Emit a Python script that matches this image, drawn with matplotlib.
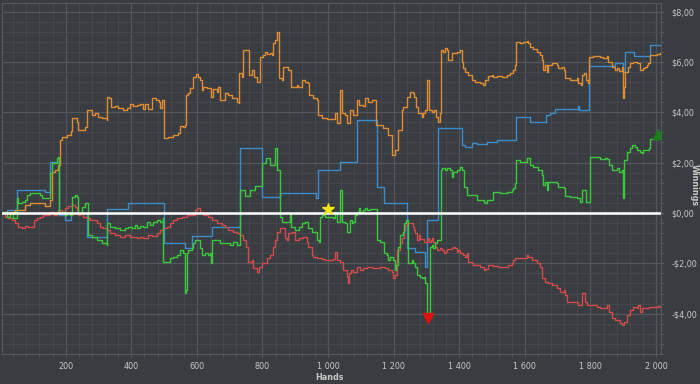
import matplotlib.pyplot as plt
from matplotlib.ticker import FuncFormatter, MultipleLocator

plt.rcParams["font.family"] = ["DejaVu Sans"]

# winnings per series (hands, $)
orange_hands = [9, 30, 46, 61, 76, 91, 122, 137, 152, 159, 168, 177, 183, 189, 204, 216, 220, 232, 235, 238,
                259, 265, 277, 280, 290, 299, 311, 326, 327, 332, 338, 351, 360, 375, 387, 396, 406, 418, 427,
                436, 442, 451, 463, 476, 485, 488, 494, 497, 499, 512, 527, 543, 549, 558, 564, 567, 573, 579,
                588, 598, 604, 610, 616, 619, 631, 640, 643, 649, 662, 665, 671, 680, 686, 695, 707, 723, 727,
                729, 738, 742, 756, 759, 768, 774, 784, 793, 802, 808, 814, 823, 829, 832, 838, 845, 848, 851,
                860, 863, 875, 878, 887, 899, 906, 909, 921, 930, 939, 942, 954, 967, 970, 982, 997, 1015, 1021,
                1027, 1037, 1043, 1052, 1058, 1067, 1076, 1088, 1095, 1107, 1113, 1122, 1134, 1143, 1146, 1168,
                1183, 1195, 1204, 1213, 1226, 1229, 1241, 1250, 1259, 1262, 1268, 1274, 1287, 1290, 1296, 1302,
                1305, 1308, 1317, 1323, 1329, 1335, 1342, 1345, 1351, 1357, 1363, 1366, 1378, 1393, 1403, 1409,
                1412, 1418, 1427, 1439, 1448, 1464, 1473, 1479, 1488, 1500, 1503, 1515, 1531, 1546, 1555, 1564,
                1570, 1573, 1585, 1595, 1607, 1610, 1616, 1625, 1637, 1646, 1653, 1656, 1662, 1668, 1671, 1683,
                1692, 1698, 1701, 1714, 1720, 1723, 1738, 1747, 1759, 1762, 1771, 1774, 1781, 1787, 1793, 1797,
                1808, 1829, 1839, 1851, 1854, 1866, 1875, 1881, 1887, 1897, 1899, 1900, 1903, 1906, 1915, 1921,
                1930, 1942, 1951, 1961, 1967, 1973, 1976, 1980, 1991, 2003, 2012]
orange_vals = [0.00, 0.04, 0.12, 0.12, 0.32, 0.40, 0.40, 0.28, 0.52, 1.63, 1.71, 1.90, 2.90, 3.02, 3.10, 3.25,
               3.77, 3.77, 3.61, 3.29, 3.41, 4.09, 4.09, 3.89, 3.97, 3.81, 3.77, 3.69, 4.60, 4.56, 4.21, 4.25,
               4.17, 4.09, 4.17, 4.33, 4.25, 4.29, 4.33, 4.13, 4.33, 4.13, 4.56, 4.48, 4.40, 4.17, 4.48, 4.48,
               2.98, 3.02, 3.10, 3.17, 3.45, 3.41, 3.49, 4.68, 4.76, 4.96, 5.40, 5.52, 5.40, 5.28, 4.88, 5.00,
               4.96, 4.96, 4.60, 4.92, 4.80, 5.00, 4.48, 4.48, 4.76, 4.68, 4.56, 4.40, 4.37, 5.56, 5.40, 6.47,
               6.47, 5.48, 5.67, 5.40, 5.20, 6.19, 6.27, 6.39, 6.31, 6.35, 6.27, 6.75, 6.86, 7.18, 7.18, 5.36,
               5.28, 5.79, 5.79, 5.67, 5.00, 5.00, 5.08, 5.00, 5.28, 5.20, 5.16, 4.68, 4.56, 4.48, 3.89, 3.77,
               3.73, 3.73, 3.97, 3.57, 4.88, 3.97, 3.89, 3.57, 4.09, 3.89, 4.48, 4.29, 4.25, 4.56, 4.40, 4.48,
               4.48, 3.49, 3.37, 3.10, 2.30, 2.50, 3.29, 4.09, 4.21, 4.60, 4.80, 4.76, 4.60, 4.21, 3.97, 3.81,
               3.97, 4.09, 5.28, 5.28, 4.09, 4.01, 4.09, 3.81, 3.61, 3.97, 6.47, 6.39, 6.55, 6.47, 6.07, 6.35,
               6.39, 6.47, 5.99, 5.75, 5.60, 5.48, 5.28, 5.20, 5.16, 5.08, 5.28, 5.44, 5.48, 5.40, 5.44, 5.40,
               5.48, 5.56, 5.67, 5.87, 6.79, 6.75, 6.79, 6.83, 6.75, 6.59, 6.51, 6.39, 6.27, 6.07, 5.67, 5.87,
               5.60, 5.87, 5.95, 5.95, 5.87, 5.75, 5.79, 5.67, 5.36, 5.28, 5.28, 5.36, 5.16, 5.08, 5.48, 5.56,
               5.28, 5.16, 6.19, 6.23, 6.19, 6.15, 6.23, 5.99, 5.79, 5.67, 5.75, 5.63, 5.79, 5.00, 4.56, 5.00,
               5.60, 5.79, 5.95, 5.99, 5.95, 5.67, 5.75, 5.79, 5.87, 5.95, 6.27, 6.27, 6.31, 6.35]

blue_hands = [9, 21, 53, 137, 152, 181, 198, 216, 265, 327, 391, 500, 564, 585, 646, 730, 799, 854, 963, 970,
              1037, 1088, 1149, 1169, 1240, 1265, 1296, 1301, 1336, 1408, 1418, 1438, 1453, 1484, 1514, 1572,
              1616, 1665, 1677, 1692, 1763, 1766, 1797, 1875, 1899, 1906, 1933, 1980, 2012]
blue_vals = [0.00, 0.12, 0.91, 0.85, 2.04, -0.08, -0.28, -0.02, -0.94, 0.16, 0.41, -1.20, -1.40, -0.91, -0.54,
             2.58, 0.63, 0.78, 0.58, 1.71, 2.04, 3.69, 1.04, 0.38, -1.40, -1.54, -2.13, -0.28, 3.36, 2.70, 2.63,
             2.77, 2.74, 2.83, 2.90, 3.82, 3.62, 3.89, 3.96, 4.11, 4.25, 4.09, 5.83, 5.94, 5.61, 6.40, 6.23,
             6.67, 6.67]

green_hands = [5, 10, 20, 30, 40, 51, 56, 66, 76, 81, 91, 112, 122, 127, 147, 152, 158, 173, 178, 181, 188,
               198, 203, 213, 219, 229, 236, 239, 249, 259, 266, 269, 280, 295, 310, 325, 327, 335, 351, 366,
               381, 391, 402, 412, 417, 427, 437, 447, 457, 467, 478, 488, 496, 498, 513, 518, 528, 539, 549,
               559, 564, 567, 569, 574, 584, 589, 595, 610, 615, 625, 635, 640, 642, 645, 671, 701, 711, 722,
               730, 747, 762, 777, 799, 811, 823, 838, 845, 854, 859, 879, 884, 886, 899, 910, 920, 930, 940,
               950, 966, 971, 974, 981, 991, 1006, 1016, 1021, 1027, 1035, 1040, 1042, 1052, 1057, 1062, 1067,
               1072, 1077, 1082, 1088, 1093, 1098, 1103, 1108, 1113, 1118, 1128, 1143, 1149, 1159, 1169, 1179,
               1184, 1189, 1199, 1204, 1207, 1214, 1220, 1228, 1232, 1238, 1243, 1245, 1255, 1260, 1265, 1271,
               1281, 1286, 1291, 1296, 1301, 1306, 1311, 1316, 1321, 1326, 1331, 1339, 1344, 1347, 1357, 1362,
               1372, 1377, 1382, 1393, 1403, 1408, 1413, 1423, 1443, 1453, 1474, 1479, 1484, 1504, 1525, 1545,
               1560, 1565, 1570, 1573, 1585, 1606, 1616, 1626, 1641, 1652, 1655, 1662, 1667, 1672, 1687, 1697,
               1702, 1718, 1723, 1738, 1748, 1758, 1768, 1774, 1784, 1787, 1797, 1799, 1814, 1829, 1845, 1850,
               1855, 1865, 1875, 1880, 1888, 1896, 1899, 1900, 1903, 1911, 1921, 1926, 1936, 1941, 1951, 1957,
               1961, 1972, 1977, 1980, 1992, 2007, 2012]
green_vals = [0.00, 0.05, -0.15, 0.00, -0.20, 0.58, 0.38, 0.45, 0.52, 0.71, 0.78, 0.78, 0.71, 0.58, 0.58, 1.58,
              1.97, 2.17, 2.23, -0.01, 0.05, -0.08, -0.01, -0.08, 0.65, 0.71, 0.65, -0.01, 0.25, 0.38, 0.38,
              -0.87, -0.94, -1.07, -1.20, -1.27, -0.41, -0.54, -0.61, -0.67, -0.61, -0.54, -0.61, -0.48, -0.61,
              -0.52, -0.54, -0.35, -0.48, -0.35, -0.28, -0.35, -0.21, -1.93, -1.93, -1.80, -1.73, -1.67, -1.47,
              -1.60, -3.19, -3.06, -1.60, -1.47, -1.40, -1.20, -1.07, -1.40, -1.67, -1.60, -1.67, -1.60, -2.00,
              -1.07, -1.20, -1.27, -1.14, -1.27, 0.91, 0.67, 0.91, 1.07, 1.98, 2.18, 1.90, 2.58, 1.71, -0.15,
              -0.35, -0.35, -0.01, -0.54, -0.67, -0.54, -0.41, -0.35, -0.61, -0.74, -1.07, -1.14, -0.15, -0.08,
              -0.15, -0.15, -0.21, 0.05, -0.35, 0.91, 0.91, -0.35, -0.41, -0.74, -0.74, -0.28, -0.41, -0.35,
              -0.08, 0.05, 0.19, 0.05, -0.01, 0.12, 0.19, 0.12, 0.15, 0.15, -1.07, -1.14, -1.60, -1.67, -1.87,
              -1.73, -1.87, -2.26, -2.06, -1.34, -0.87, -0.74, -0.41, -0.28, -0.28, -2.00, -1.87, -2.00, -2.13,
              -2.46, -2.53, -2.59, -2.53, -2.79, -4.11, -3.98, -1.34, -1.27, -1.40, -1.20, -1.07, -1.07, 1.71,
              1.77, 1.71, 1.77, 1.71, 1.44, 1.64, 1.71, 1.84, 1.71, 1.04, 0.71, 0.71, 0.52, 0.45, 0.38, 0.52,
              0.85, 0.78, 0.85, 0.91, 0.98, 1.18, 2.10, 2.04, 2.17, 1.90, 1.84, 1.71, 1.51, 1.11, 1.24, 0.91,
              1.24, 1.24, 1.18, 1.04, 0.98, 0.67, 0.65, 0.65, 0.58, 0.45, 0.91, 0.91, 0.45, 0.45, 2.23, 2.21,
              2.13, 2.17, 2.13, 1.90, 1.71, 1.71, 1.77, 1.64, 1.71, 0.58, 0.58, 2.10, 2.43, 2.57, 2.70, 2.63,
              2.50, 2.43, 2.37, 2.50, 2.50, 2.57, 2.92, 2.92, 2.96, 3.00]

red_hands = [5, 15, 25, 36, 46, 56, 66, 76, 85, 102, 112, 122, 132, 146, 152, 163, 173, 178, 188, 198, 208,
             219, 229, 234, 239, 244, 254, 264, 274, 284, 295, 305, 315, 325, 335, 351, 366, 381, 396, 417, 427,
             437, 452, 463, 478, 488, 498, 508, 518, 528, 539, 554, 569, 585, 595, 600, 610, 620, 635, 645, 661,
             676, 686, 696, 711, 722, 732, 741, 750, 757, 767, 772, 783, 788, 798, 813, 823, 833, 838, 845, 854,
             864, 869, 874, 879, 889, 899, 910, 920, 925, 935, 940, 950, 955, 966, 981, 991, 1006, 1016, 1021,
             1027, 1037, 1047, 1052, 1057, 1062, 1065, 1069, 1077, 1088, 1098, 1108, 1118, 1138, 1159, 1174,
             1184, 1194, 1199, 1204, 1211, 1220, 1225, 1230, 1235, 1240, 1250, 1258, 1262, 1265, 1271, 1276,
             1281, 1291, 1301, 1306, 1309, 1313, 1316, 1321, 1326, 1331, 1342, 1347, 1352, 1357, 1362, 1377,
             1382, 1387, 1393, 1397, 1403, 1411, 1418, 1423, 1428, 1438, 1443, 1464, 1474, 1479, 1489, 1504,
             1519, 1535, 1550, 1560, 1565, 1570, 1601, 1606, 1611, 1621, 1636, 1646, 1652, 1662, 1672, 1682,
             1697, 1707, 1718, 1723, 1728, 1758, 1763, 1768, 1774, 1779, 1784, 1789, 1804, 1819, 1829, 1845,
             1850, 1855, 1865, 1875, 1885, 1890, 1896, 1901, 1911, 1921, 1931, 1941, 1946, 1951, 1957, 1977,
             1992, 2007, 2012]
red_vals = [-0.01, -0.15, -0.21, -0.28, -0.41, -0.54, -0.61, -0.52, -0.56, -0.28, -0.21, -0.16, -0.08, -0.08,
            0.05, -0.08, 0.05, 0.12, 0.05, 0.19, 0.28, 0.32, 0.25, 0.12, -0.08, -0.01, -0.15, -0.21, -0.28,
            -0.28, -0.41, -0.54, -0.61, -0.67, -0.81, -0.87, -0.94, -0.87, -0.94, -1.00, -0.94, -1.00, -0.87,
            -0.91, -0.81, -0.67, -0.61, -0.54, -0.41, -0.28, -0.21, -0.15, -0.08, -0.08, 0.12, 0.19, 0.05,
            -0.08, -0.15, -0.28, -0.41, -0.48, -0.54, -0.67, -0.74, -0.81, -0.87, -1.07, -1.34, -1.93, -1.87,
            -2.19, -2.33, -2.13, -2.00, -1.80, -1.67, -1.34, -1.07, -0.75, -0.61, -0.61, -1.00, -1.07, -0.81,
            -0.74, -1.07, -1.00, -1.00, -0.94, -1.14, -1.34, -1.67, -1.73, -1.80, -1.84, -1.87, -1.87, -1.84,
            -1.54, -1.87, -1.93, -2.26, -2.26, -2.53, -2.79, -2.39, -2.26, -2.33, -2.13, -2.26, -2.19, -2.13,
            -2.19, -2.13, -2.19, -2.26, -2.33, -2.59, -2.46, -1.47, -1.20, -1.00, -0.67, -0.48, -0.41, -0.41,
            -0.54, -0.67, -0.81, -1.07, -0.87, -1.04, -1.14, -1.07, -1.00, -1.14, -1.07, -1.00, -1.14, -1.34,
            -1.47, -1.40, -1.47, -1.60, -1.54, -1.44, -1.40, -1.36, -1.40, -1.54, -1.47, -1.60, -1.67, -1.76,
            -1.60, -1.93, -1.98, -2.06, -2.13, -2.26, -2.22, -2.06, -2.10, -2.13, -2.13, -2.06, -2.00, -1.87,
            -1.80, -1.80, -1.67, -1.73, -1.87, -2.00, -2.13, -2.59, -2.73, -2.79, -2.86, -2.99, -3.12, -3.06,
            -3.25, -3.52, -3.52, -3.65, -3.65, -3.19, -3.19, -3.52, -3.65, -3.65, -3.72, -3.78, -3.78, -3.65,
            -3.92, -4.18, -4.25, -4.25, -4.35, -4.44, -4.31, -4.05, -3.85, -3.72, -3.78, -3.65, -3.92, -3.78,
            -3.72, -3.72, -3.69, -3.72]

star_point = (1000, 0.16)
low_point = (1305, -4.17)
end_point = (2006, 3.12)

BG = "#393c40"
TXT = "#c8c8c8"


def money(v, _pos):
    s = f"${abs(v):.2f}".replace(".", ",")
    return "-" + s if v < -1e-9 else s


def hands_fmt(v, _pos):
    return f"{int(round(v)):,}".replace(",", " ")


fig = plt.figure(figsize=(7.0, 3.84), dpi=100, facecolor=BG)
ax = fig.add_axes([1.7 / 700, 30 / 384, 659.3 / 700, 351.3 / 384], facecolor=BG)

ax.plot(blue_hands, blue_vals, color="#3b8dcc", lw=1.0, drawstyle="steps-post", zorder=3)
ax.plot(orange_hands, orange_vals, color="#e08c32", lw=1.0, drawstyle="steps-post", zorder=3)
ax.plot(red_hands, red_vals, color="#d24b4b", lw=1.0, drawstyle="steps-post", zorder=3)
ax.plot(green_hands, green_vals, color="#3cc83c", lw=1.0, drawstyle="steps-post", zorder=4)
ax.axhline(0, color="white", lw=1.8, zorder=5)

ax.plot(*star_point, marker="*", ms=9, color="#f2e41b", zorder=6)
ax.plot(*low_point, marker="v", ms=7, color="#e01010", zorder=6)
ax.plot(*end_point, marker="^", ms=7, color="#1c7d1c", zorder=6)

ax.set_xlim(5, 2015)
ax.set_ylim(-5.6, 8.35)
ax.xaxis.set_major_locator(MultipleLocator(200))
ax.xaxis.set_minor_locator(MultipleLocator(40))
ax.yaxis.set_major_locator(MultipleLocator(2))
ax.yaxis.set_minor_locator(MultipleLocator(0.4))
ax.xaxis.set_major_formatter(FuncFormatter(hands_fmt))
ax.yaxis.set_major_formatter(FuncFormatter(money))
ax.yaxis.tick_right()

ax.grid(True, which="major", color="#53565b", lw=0.9)
ax.grid(True, which="minor", color="#45484c", lw=0.7)
ax.set_axisbelow(True)
ax.tick_params(which="both", colors="#5a5d62", labelcolor=TXT, labelsize=6.5, length=2.5)
ax.tick_params(axis="y", pad=5)
ax.tick_params(axis="x", pad=3)
for lab in ax.get_xticklabels() + ax.get_yticklabels():
    lab.set_fontstretch("condensed")
for sp in ax.spines.values():
    sp.set_color("#55585c")

fig.text(330 / 700, 1 - 378 / 384, "Hands", color=TXT, fontsize=6.5, fontweight="bold",
         fontstretch="condensed", ha="center", va="center")
fig.text(694.5 / 700, 1 - 185 / 384, "Winnings", color=TXT, fontsize=6.5, fontweight="bold",
         fontstretch="condensed", rotation=270, ha="center", va="center")

fig.savefig("out.png", dpi=100, facecolor=BG)
